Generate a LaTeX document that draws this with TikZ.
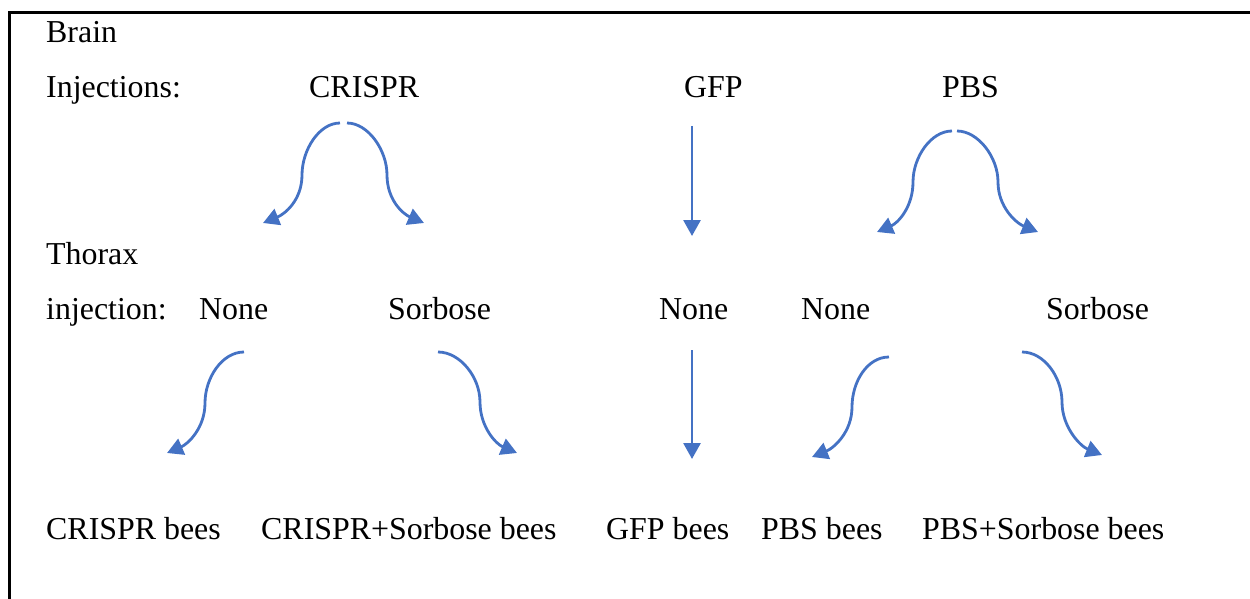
\documentclass[tikz,border=0pt]{standalone}
\usepackage{fontspec}
\setmainfont{Liberation Serif}
\usetikzlibrary{arrows.meta}
\definecolor{arrowblue}{HTML}{4472C4}
\begin{document}
\begin{tikzpicture}[x=1pt,y=-1pt,
  lbl/.style={anchor=base west,inner sep=0pt,font=\fontsize{31.9}{38}\selectfont},
  conn/.style={draw=arrowblue,line width=2.8pt,-{Triangle[length=16pt,width=17pt]}},
  frame/.style={draw=black,line width=2.3pt}]
\useasboundingbox (0,0) rectangle (1250,599);
% frame
\coordinate (tl) at (9.5,12.5);
\coordinate (tr) at (1250,12.5);
\coordinate (bl) at (9.5,599);
\draw[frame] (tr) -- (tl) -- (bl);
% labels
\node[lbl] (brain) at (46,43) {Brain};
\node[lbl] (inj) at (46,98) {Injections:};
\node[lbl] (crispr) at (309,98) {CRISPR};
\node[lbl] (gfp) at (684,98) {GFP};
\node[lbl] (pbs) at (942,98) {PBS};
\node[lbl] (thorax) at (46,264) {Thorax};
\node[lbl] (tinj) at (46,319) {injection:};
\node[lbl] (none1) at (199,319) {None};
\node[lbl] (sorb1) at (388,319) {Sorbose};
\node[lbl] (none2) at (659,319) {None};
\node[lbl] (none3) at (801,319) {None};
\node[lbl] (sorb2) at (1046,319) {Sorbose};
\node[lbl] (b1) at (46,539) {CRISPR bees};
\node[lbl] (b2) at (261,539) {CRISPR+Sorbose bees};
\node[lbl] (b3) at (606,539) {GFP bees};
\node[lbl] (b4) at (761,539) {PBS bees};
\node[lbl] (b5) at (922,539) {PBS+Sorbose bees};
% connector end points
\coordinate (cS1) at (340,123); \coordinate (cT1) at (263,223);
\coordinate (cS2) at (347,123); \coordinate (cT2) at (424,223);
\coordinate (gS1) at (692,126); \coordinate (gT1) at (692,236);
\coordinate (pS1) at (952,131); \coordinate (pT1) at (877,232);
\coordinate (pS2) at (957,131); \coordinate (pT2) at (1038,232);
\coordinate (nS1) at (244,352); \coordinate (nT1) at (167,453);
\coordinate (sS1) at (438,352); \coordinate (sT1) at (517,453);
\coordinate (gS2) at (692,350); \coordinate (gT2) at (692,459);
\coordinate (nS3) at (889,357); \coordinate (nT3) at (812,457);
\coordinate (sS2) at (1022,352); \coordinate (sT2) at (1102,455);
% connectors
\draw[conn] (cS1) .. controls (319,123) and (302,150) .. (302,175) .. controls (302,200) and (285,214) .. (cT1);
\draw[conn] (cS2) .. controls (368,123) and (387,150) .. (387,175) .. controls (387,200) and (403,214) .. (cT2);
\draw[conn] (gS1) -- (gT1);
\draw[conn] (pS1) .. controls (931,131) and (913,157) .. (913,182) .. controls (913,207) and (898,223) .. (pT1);
\draw[conn] (pS2) .. controls (978,131) and (998,157) .. (998,182) .. controls (998,207) and (1016,223) .. (pT2);
\draw[conn] (nS1) .. controls (222,352) and (205,378) .. (205,403) .. controls (205,428) and (188,444) .. (nT1);
\draw[conn] (sS1) .. controls (460,352) and (480,377) .. (480,402) .. controls (480,427) and (496,444) .. (sT1);
\draw[conn] (gS2) -- (gT2);
\draw[conn] (nS3) .. controls (867,357) and (852,382) .. (852,407) .. controls (852,432) and (834,448) .. (nT3);
\draw[conn] (sS2) .. controls (1044,352) and (1062,377) .. (1062,402) .. controls (1062,427) and (1080,446) .. (sT2);
\end{tikzpicture}
\end{document}
